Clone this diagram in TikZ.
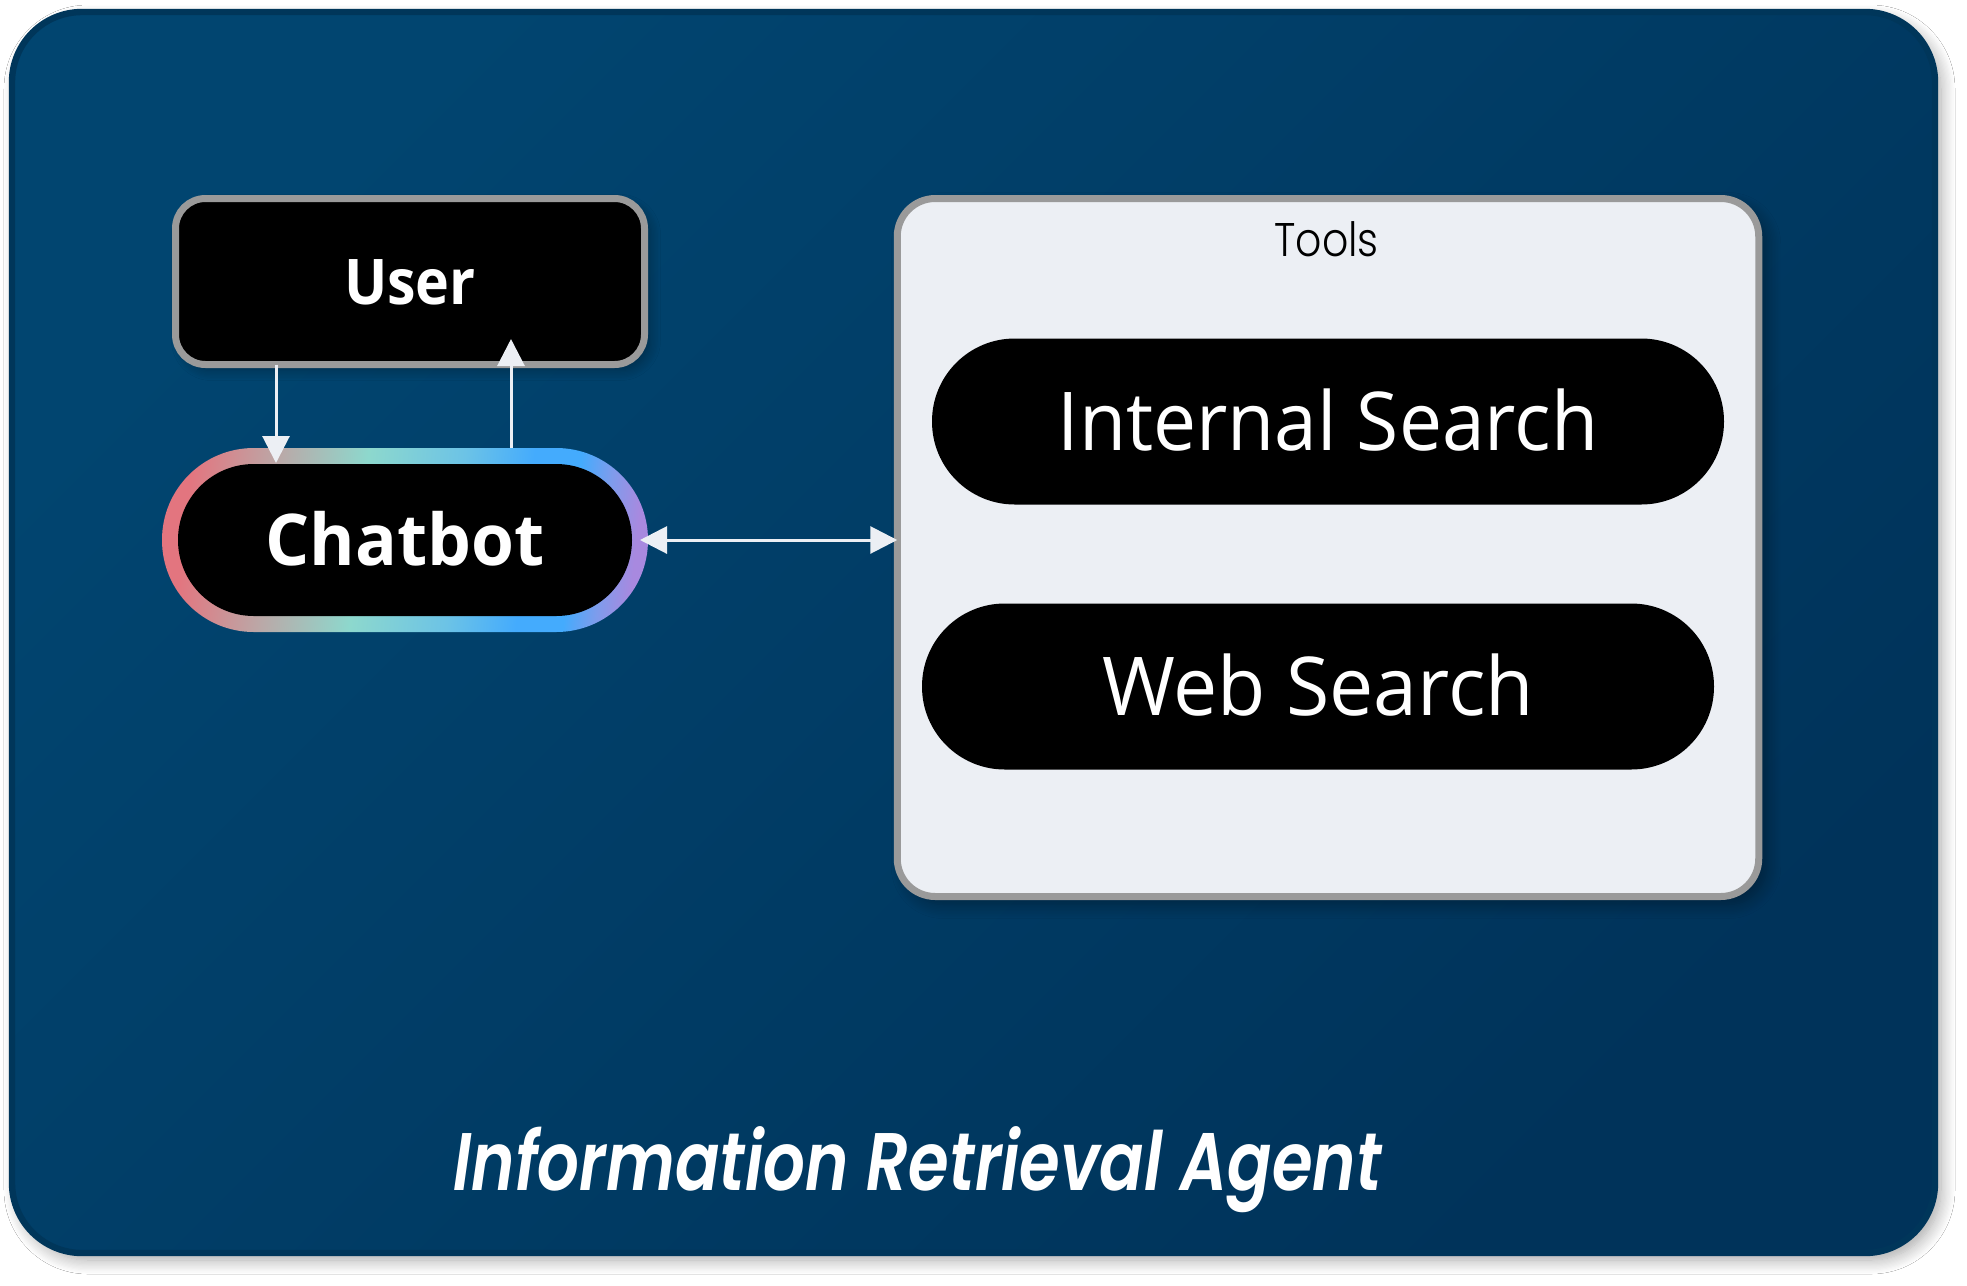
\documentclass[tikz,border=0pt]{standalone}
\usepackage{fontspec}
\usepackage{graphicx}
\setmainfont{Open Sans}
\newfontfamily\geofont{Poppins}
\newfontfamily\geolight{Poppins Light}
\newfontfamily\geotitle{Poppins SemiBold Italic}
\usetikzlibrary{arrows.meta,shadows.blur,calc}
\definecolor{bgA}{HTML}{014570}
\definecolor{bgB}{HTML}{00335A}
\definecolor{bgline}{HTML}{00365A}
\definecolor{boxline}{HTML}{9A9A9A}
\definecolor{toolfill}{HTML}{ECEFF4}
\definecolor{arrowc}{HTML}{ECEFF4}
\definecolor{rc1}{HTML}{E3757F}
\definecolor{rc2}{HTML}{BAA9A8}
\definecolor{rc3}{HTML}{8DD8CD}
\definecolor{rc4}{HTML}{6CC3E6}
\definecolor{rc5}{HTML}{44ABFD}
\definecolor{rc6}{HTML}{7E9CEC}
\definecolor{rc7}{HTML}{A889DF}
\pgfdeclarehorizontalshading{ring}{100bp}{color(0bp)=(rc1); color(25.8bp)=(rc1); color(35.4bp)=(rc2); color(45bp)=(rc3); color(55.5bp)=(rc4); color(63.1bp)=(rc5); color(68.2bp)=(rc5); color(71.7bp)=(rc6); color(75.2bp)=(rc7); color(100bp)=(rc7)}
\begin{document}
\begin{tikzpicture}[x=0.5pt,y=-0.5pt,
  frame/.style={draw=bgline, line width=3.2pt, rounded corners=35pt,
    top color=bgA, bottom color=bgB, shading angle=45,
    blur shadow={shadow xshift=3pt, shadow yshift=-3.5pt, shadow opacity=35, shadow blur radius=7pt, shadow blur steps=12}},
  userbox/.style={draw=boxline, line width=3.5pt, fill=black, rounded corners=15pt,
    minimum width=234.5pt, minimum height=83pt, inner sep=0pt, outer sep=0pt, text=white,
    text height=22.5pt, text depth=0pt,
    blur shadow={shadow xshift=3pt, shadow yshift=-3pt, shadow opacity=30, shadow blur radius=5pt, shadow blur steps=8}},
  toolbox/.style={draw=boxline, line width=3.5pt, fill=toolfill, rounded corners=19pt,
    minimum width=430.75pt, minimum height=349pt, inner sep=0pt, outer sep=0pt,
    blur shadow={shadow xshift=4pt, shadow yshift=-4pt, shadow opacity=35, shadow blur radius=7pt, shadow blur steps=10}},
  ringshape/.style={shading=ring, shading angle=-6.2, minimum width=243pt, minimum height=92pt,
    rounded corners=45.9pt, inner sep=0pt, outer sep=0pt},
  ringinner/.style={fill=black, minimum width=227pt, minimum height=76pt,
    rounded corners=37.9pt, inner sep=0pt, outer sep=0pt, text=white, text height=25.5pt, text depth=0pt},
  pill/.style={fill=black, minimum width=396pt, minimum height=83pt, rounded corners=41.4pt,
    inner sep=0pt, outer sep=0pt, text=white, text height=29pt, text depth=0pt,
    font=\fontsize{40.6pt}{48pt}\selectfont},
  arr/.style={draw=arrowc, line width=1.5pt, -{Triangle[length=13.5pt,width=13.5pt]}},
  darr/.style={draw=arrowc, line width=1.5pt, {Triangle[length=13.5pt,width=13.5pt]}-{Triangle[length=13.5pt,width=13.5pt]}}
]
\useasboundingbox (0,0) rectangle (1967,1286);
\fill[white] (0,0) rectangle (1967,1286);
\path[frame] (12,12) rectangle (1935,1253);

\node[toolbox] (tools) at (1328,547.5) {};
\node[anchor=base, font=\geolight\fontsize{23.6pt}{28pt}\selectfont, text=black] (toolslabel) at (1326.5,256) {\scalebox{0.87}[1]{Tools}};
\node[pill] (internal) at (1328,421.5) {\scalebox{0.945}[1]{Internal Search}};
\node[pill] (web) at (1318,686.5) {\scalebox{0.97}[1]{Web Search}};

\node[userbox, font=\bfseries\fontsize{31.5pt}{36pt}\selectfont] (user) at (410,281.5) {\scalebox{0.91}[1]{User}};
\node[ringshape] (chat) at (405,540) {};
\node[ringinner, font=\bfseries\fontsize{35.7pt}{42pt}\selectfont] (chatin) at (chat.center) {\scalebox{0.972}[1]{Chatbot}};

\coordinate (dx) at (276,0);
\coordinate (ux) at (511,0);
\draw[arr, shorten >=-7.5pt] (dx |- user.south) -- (dx |- chat.north);
\draw[arr, shorten >=-12.75pt] (ux |- chat.north) -- (ux |- user.south);
\draw[darr, shorten <=-4pt] (chat.east) -- (chat.east -| tools.west);

\node[anchor=base, text=white, font=\geotitle\fontsize{40.8pt}{48pt}\selectfont] (title) at (917.5,1190) {\scalebox{0.806}[1]{Information Retrieval Agent}};
\end{tikzpicture}
\end{document}
